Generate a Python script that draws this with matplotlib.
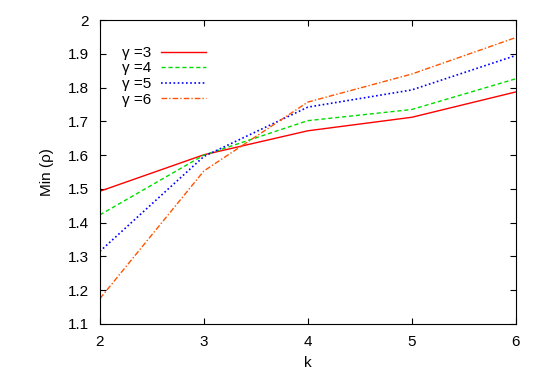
import matplotlib
matplotlib.use('Agg')
import matplotlib.pyplot as plt

plt.rcParams['font.family'] = ['Liberation Sans', 'DejaVu Sans']

k = [2, 3, 4, 5, 6]
g3 = [1.493, 1.601, 1.672, 1.712, 1.787]
g4 = [1.423, 1.600, 1.702, 1.735, 1.826]
g5 = [1.315, 1.596, 1.742, 1.793, 1.895]
g6 = [1.175, 1.553, 1.757, 1.840, 1.948]
labels = ['\u03b3 =3', '\u03b3 =4', '\u03b3 =5', '\u03b3 =6']

fig = plt.figure(figsize=(5.4, 3.78), dpi=100)
ax = fig.add_axes([0.185, 0.143, 0.770, 0.804])

ax.plot(k, g3, color='#ff0000', lw=1.0, ls='-', label=labels[0])
ax.plot(k, g4, color='#00dd00', lw=1.0, ls=(0, (3, 2)), label=labels[1])
ax.plot(k, g5, color='#0000ff', lw=1.2, ls=(0, (1, 1.5)), label=labels[2])
ax.plot(k, g6, color='#ff5500', lw=1.0, ls=(0, (4, 1.5, 1, 1.5)), label=labels[3])

ax.set_xlim(2, 6)
ax.set_ylim(1.1, 2.0)
ax.set_xticks(k)
yt = [1.1, 1.2, 1.3, 1.4, 1.5, 1.6, 1.7, 1.8, 1.9, 2.0]
ax.set_yticks(yt)
ax.set_yticklabels(['1.1', '1.2', '1.3', '1.4', '1.5', '1.6', '1.7', '1.8', '1.9', '2'])
ax.tick_params(direction='in', top=True, right=True, labelsize=11, length=4, pad=8)
ax.set_xlabel('k', fontsize=11, labelpad=5)
ax.set_ylabel('Min (\u03c1)', fontsize=11, labelpad=10)

leg = ax.legend(loc='upper left', bbox_to_anchor=(0.028, 0.95), frameon=False,
                fontsize=11, markerfirst=False, handlelength=2.95,
                labelspacing=0.1, handletextpad=0.65, borderaxespad=0.3)
for t in leg.get_texts():
    t.set_ha('right')

fig.savefig('out.png', dpi=100)
